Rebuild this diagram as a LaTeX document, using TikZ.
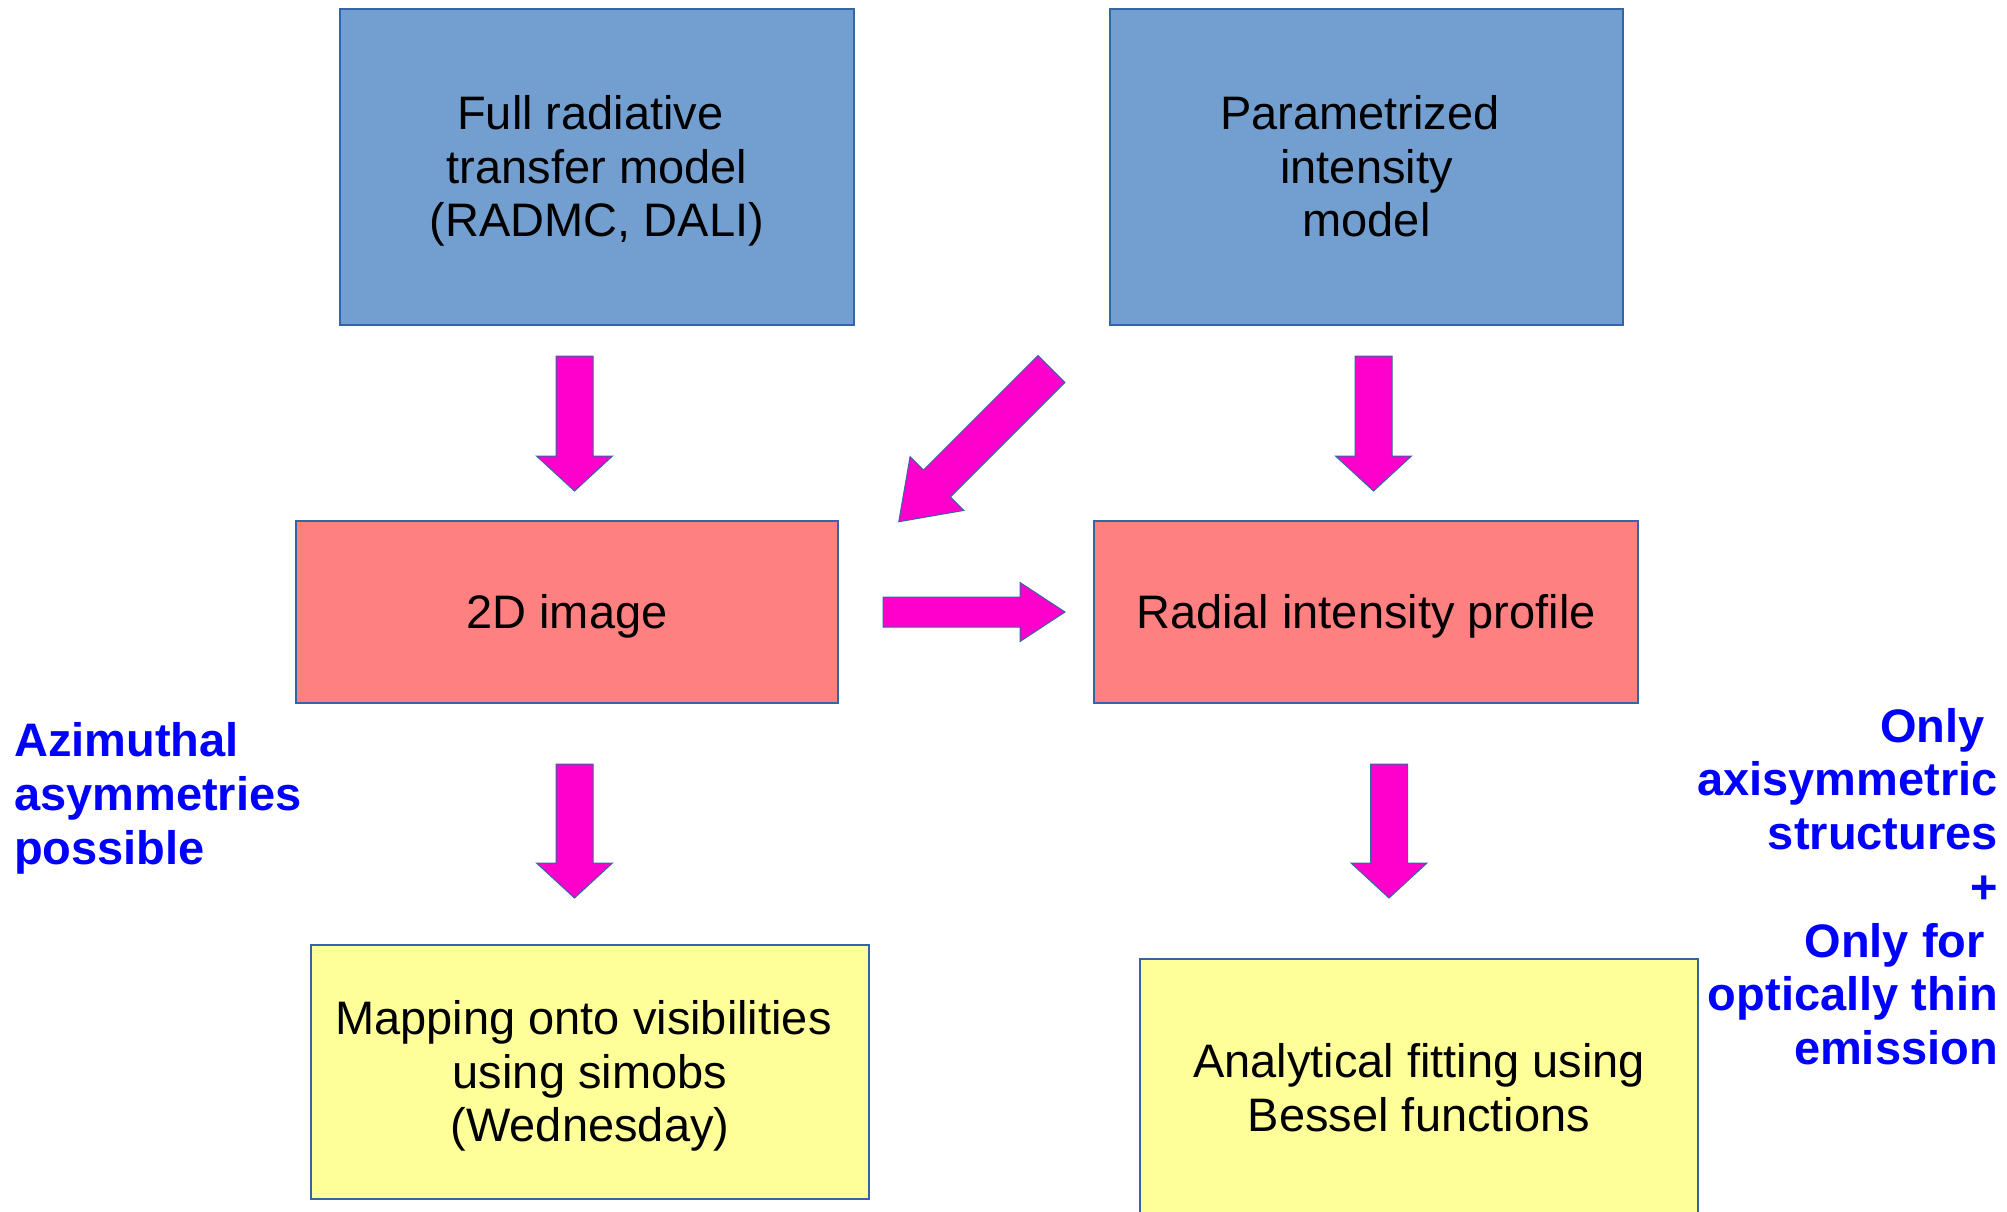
\documentclass[tikz,border=0pt]{standalone}
\usepackage{fontspec}
\setmainfont{Liberation Sans}
\definecolor{blueF}{HTML}{729FCF}
\definecolor{redF}{HTML}{FF8080}
\definecolor{yellowF}{HTML}{FFFF99}
\definecolor{magF}{HTML}{FF00CC}
\definecolor{bordC}{HTML}{3465A4}
\definecolor{noteC}{HTML}{0000FF}
\newcommand{\ls}{\rule[-0.212em]{0pt}{1.117em}}
\newcommand{\tsp}{\makebox[0.278em]{}}
\tikzset{
  box/.style={draw=bordC, line width=1.3pt, inner sep=0pt, align=center,
    font=\fontsize{47}{53.5}\selectfont},
  bluebox/.style={box, fill=blueF},
  redbox/.style={box, fill=redF},
  yellowbox/.style={box, fill=yellowF},
  notetext/.style={inner sep=0pt, text=noteC, font=\fontsize{47}{53.7}\selectfont\bfseries},
  arrowsty/.style={fill=magF, draw=bordC, line width=1pt, line join=miter},
  pics/blockarrow/.style n args={4}{code={
    \draw[arrowsty] (0,-#2) -- (#1-#4,-#2) -- (#1-#4,-#3) -- (#1,0) --
      (#1-#4,#3) -- (#1-#4,#2) -- (0,#2) -- cycle;}}
}
\begin{document}
\begin{tikzpicture}[x=1pt,y=-1pt]
\useasboundingbox (0,0) rectangle (2007,1211);
% boxes
\node[bluebox, minimum width=514pt, minimum height=316pt] (full) at (597,167)
  {\ls Full radiative\tsp\\transfer model\\\ls(RADMC, DALI)};
\node[bluebox, minimum width=513pt, minimum height=316pt] (param) at (1366.5,167)
  {\ls Parametrized\tsp\\intensity\\\ls model};
\node[redbox, minimum width=542pt, minimum height=182pt] (img) at (567,612)
  {\ls 2D image};
\node[redbox, minimum width=544pt, minimum height=182pt] (rad) at (1366,612)
  {\ls Radial intensity profile};
\node[yellowbox, minimum width=558pt, minimum height=254pt] (map) at (590,1072)
  {\ls Mapping onto visibilities\tsp\\using simobs\\\ls(Wednesday)};
\node[yellowbox, minimum width=558pt, minimum height=258pt] (bessel) at (1419,1088)
  {\ls Analytical fitting using\\\ls Bessel functions};
% arrows
\pic[rotate=-90] at (574.5,356) {blockarrow={135}{18.5}{38}{35}};
\pic[rotate=-90] at (1373.5,356) {blockarrow={135}{18.5}{38}{35}};
\pic[rotate=-135] at (1051.5,369) {blockarrow={216}{19}{38}{54}};
\pic[rotate=0] at (883,612) {blockarrow={182}{15}{29.5}{45}};
\pic[rotate=-90] at (574.5,764) {blockarrow={134}{18.5}{38}{35}};
\pic[rotate=-90] at (1389,764) {blockarrow={134}{18.5}{38}{35}};
% notes
\node[notetext, anchor=west, align=left] (azi) at (14,794)
  {\ls Azimuthal\\asymmetries\\\ls possible};
\node[notetext, anchor=east, align=right] (axi) at (1998,887)
  {\ls Only\tsp\\axisymmetric\\structures\\+\\Only for\tsp\\optically thin\\\ls emission};
\end{tikzpicture}
\end{document}
